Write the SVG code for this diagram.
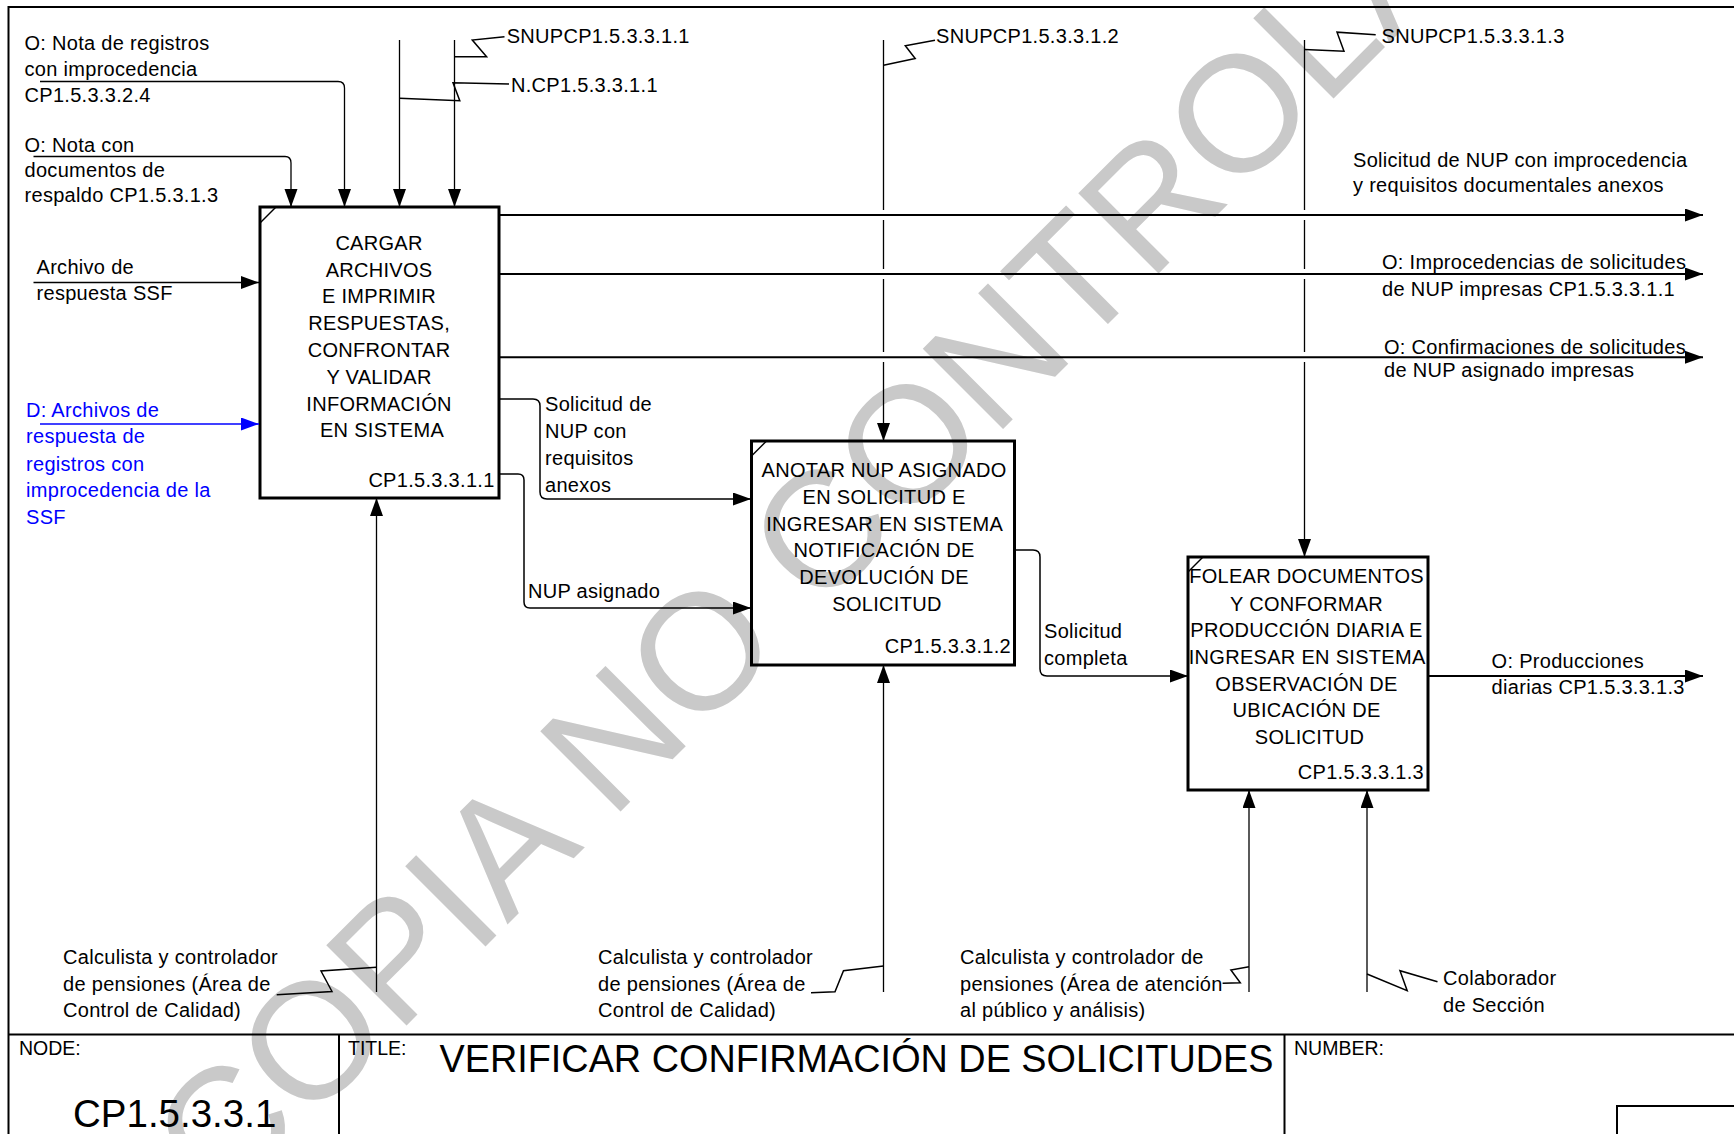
<svg xmlns="http://www.w3.org/2000/svg" width="1734" height="1134" viewBox="0 0 1734 1134">
<style>
.t{font-family:"Liberation Sans",Arial,Helvetica,sans-serif;font-size:20px;fill:#000;letter-spacing:0.3px}
.m{text-anchor:middle}
.e{text-anchor:end}
.blue{fill:#0000ff}
.b{fill:none;stroke:#000;stroke-width:3}
.o{fill:none;stroke:#000;stroke-width:2}
.c{fill:none;stroke:#000;stroke-width:1.3}
.s{fill:none;stroke:#000;stroke-width:1.5}
.fr{fill:none;stroke:#000;stroke-width:2}
.wm{font-family:"Liberation Sans",Arial,sans-serif;font-size:165px;fill:#c9c9c9}
</style>
<defs>
<marker id="ah" markerUnits="userSpaceOnUse" markerWidth="20" markerHeight="14" refX="18" refY="6.5" orient="auto"><path d="M0,0 L18,6.5 L0,13 z" fill="#000"/></marker>
<marker id="ahb" markerUnits="userSpaceOnUse" markerWidth="20" markerHeight="14" refX="18" refY="6.5" orient="auto"><path d="M0,0 L18,6.5 L0,13 z" fill="#0000ff"/></marker>
</defs>
<rect width="1734" height="1134" fill="#fff"/>
<g id="watermark">
<text class="wm" x="222" y="1210" transform="rotate(-45 222 1210)">COPIA NO CONTROLADA</text>
</g>
<g id="frame">
<rect class="fr" x="8.5" y="7" width="1800" height="1200"/>
<line class="fr" x1="8.5" y1="1034.5" x2="1740" y2="1034.5"/>
<line class="fr" x1="339" y1="1034.5" x2="339" y2="1140"/>
<line class="fr" x1="1284.5" y1="1034.5" x2="1284.5" y2="1140"/>
<rect class="fr" x="1617" y="1106" width="200" height="100"/>
<text class="t" x="19" y="1055" style="font-size:19.5px;letter-spacing:0">NODE:</text>
<text class="t" x="73" y="1127" style="font-size:38.5px;letter-spacing:0">CP1.5.3.3.1</text>
<text class="t" x="348" y="1055" style="font-size:19.5px;letter-spacing:0">TITLE:</text>
<text class="t" x="439.5" y="1071.7" style="font-size:38px;letter-spacing:0" textLength="834" lengthAdjust="spacingAndGlyphs">VERIFICAR CONFIRMACIÓN DE SOLICITUDES</text>
<text class="t" x="1294" y="1055" style="font-size:19.5px;letter-spacing:0">NUMBER:</text>
</g>
<g id="A1">
<rect class="b" x="260" y="207" width="239" height="291"/>
<line class="s" x1="260" y1="223" x2="276" y2="207"/>
<text class="t m">
<tspan x="382" y="250">CARGAR</tspan>
<tspan x="382" y="276.5">ARCHIVOS</tspan>
<tspan x="382" y="303">E IMPRIMIR</tspan>
<tspan x="382" y="330">RESPUESTAS,</tspan>
<tspan x="382" y="357">CONFRONTAR</tspan>
<tspan x="382" y="383.5">Y VALIDAR</tspan>
<tspan x="382" y="410.5">INFORMACIÓN</tspan>
<tspan x="382" y="437">EN SISTEMA</tspan>
</text>
<text class="t e" x="494.6" y="486.7">CP1.5.3.3.1.1</text>
</g>
<g id="A2">
<rect class="b" x="751.5" y="441" width="263" height="224"/>
<line class="s" x1="751.5" y1="456" x2="766.5" y2="441"/>
<text class="t m">
<tspan x="887" y="477.3">ANOTAR NUP ASIGNADO</tspan>
<tspan x="887" y="504">EN SOLICITUD E</tspan>
<tspan x="887" y="530.7">INGRESAR EN SISTEMA</tspan>
<tspan x="887" y="557.3">NOTIFICACIÓN DE</tspan>
<tspan x="887" y="584">DEVOLUCIÓN DE</tspan>
<tspan x="887" y="610.7">SOLICITUD</tspan>
</text>
<text class="t e" x="1011" y="653.3">CP1.5.3.3.1.2</text>
</g>
<g id="A3">
<rect class="b" x="1188" y="557" width="240" height="233"/>
<line class="s" x1="1188" y1="572" x2="1203" y2="557"/>
<text class="t m">
<tspan x="1309.5" y="583.3">FOLEAR DOCUMENTOS</tspan>
<tspan x="1309.5" y="610.7">Y CONFORMAR</tspan>
<tspan x="1309.5" y="637.3">PRODUCCIÓN DIARIA E</tspan>
<tspan x="1309.5" y="664">INGRESAR EN SISTEMA</tspan>
<tspan x="1309.5" y="690.7">OBSERVACIÓN DE</tspan>
<tspan x="1309.5" y="717.3">UBICACIÓN DE</tspan>
<tspan x="1309.5" y="744">SOLICITUD</tspan>
</text>
<text class="t e" x="1424" y="779.3">CP1.5.3.3.1.3</text>
</g>
<g id="connectors">
<path class="c" d="M40,81.5 H338 Q344.5,81.5 344.5,88 V207" marker-end="url(#ah)"/>
<path class="c" d="M33.5,156.5 H285 Q291,156.5 291,163 V207" marker-end="url(#ah)"/>
<path class="c" d="M399.5,40 V207" marker-end="url(#ah)"/>
<path class="c" d="M454.5,40 V207" marker-end="url(#ah)"/>
<path class="c" d="M33.5,282.5 H259" marker-end="url(#ah)"/>
<path class="c" d="M40,424 H259" style="stroke:#0000ff" marker-end="url(#ahb)"/>
<path class="o" d="M499,215 H1703" marker-end="url(#ah)"/>
<path class="o" d="M499,274 H1703" marker-end="url(#ah)"/>
<path class="o" d="M499,357.3 H1703" marker-end="url(#ah)"/>
<path class="s" d="M499,399 H533 Q540,399 540,406 V492 Q540,499 547,499 H751" marker-end="url(#ah)"/>
<path class="s" d="M499,474 H518 Q524,474 524,480 V602 Q524,608 530,608 H751" marker-end="url(#ah)"/>
<path class="s" d="M1015,550 H1033 Q1040,550 1040,557 V669 Q1040,676 1047,676 H1188" marker-end="url(#ah)"/>
<path class="o" d="M1428,676 H1703" marker-end="url(#ah)"/>
<path class="c" d="M883.5,40 V210 M883.5,220 V269 M883.5,279 V352"/>
<path class="c" d="M883.5,362 V441" marker-end="url(#ah)"/>
<path class="c" d="M1304.5,40 V210 M1304.5,220 V269 M1304.5,279 V352"/>
<path class="c" d="M1304.5,362 V557" marker-end="url(#ah)"/>
<path class="c" d="M376.5,992 V498" marker-end="url(#ah)"/>
<path class="c" d="M883.5,992 V665" marker-end="url(#ah)"/>
<path class="c" d="M1249,992 V790" marker-end="url(#ah)"/>
<path class="c" d="M1367,992 V790" marker-end="url(#ah)"/>
<path class="s" d="M454.5,56.7 L486.6,56.7 L472.3,40 L504.5,36.7"/>
<path class="s" d="M399.5,98.3 L459.8,100.7 L453,82.7 L509,84"/>
<path class="s" d="M883.5,65.2 L915.2,58.6 L905.3,45.8 L935,40.3"/>
<path class="s" d="M1304.5,49.5 L1344,51.3 L1337,32.2 L1375.7,34.8"/>
<path class="s" d="M276.7,994.8 L332,991.5 L321,971 L376.5,967.3"/>
<path class="s" d="M811,992.7 L835,991.7 L843.5,970.7 L883.5,966"/>
<path class="s" d="M1222.6,983.3 L1240.3,982.7 L1230.9,970 L1249,966.7"/>
<path class="s" d="M1367,974 L1407.2,990.7 L1400,970.7 L1437.5,981.7"/>
</g>
<g id="labels">
<text class="t"><tspan x="24.5" y="50">O: Nota de registros</tspan><tspan x="24.5" y="76">con improcedencia</tspan><tspan x="24.5" y="102">CP1.5.3.3.2.4</tspan></text>
<text class="t"><tspan x="24.5" y="151.5">O: Nota con</tspan><tspan x="24.5" y="177">documentos de</tspan><tspan x="24.5" y="202">respaldo CP1.5.3.1.3</tspan></text>
<text class="t"><tspan x="36.5" y="273.5">Archivo de</tspan><tspan x="36.5" y="300">respuesta SSF</tspan></text>
<text class="t blue"><tspan x="26" y="416.5">D: Archivos de</tspan><tspan x="26" y="443.3">respuesta de</tspan><tspan x="26" y="470.5">registros con</tspan><tspan x="26" y="497.3">improcedencia de la</tspan><tspan x="26" y="523.5">SSF</tspan></text>
<text class="t" x="506.7" y="43.3">SNUPCP1.5.3.3.1.1</text>
<text class="t" x="511" y="91.7">N.CP1.5.3.3.1.1</text>
<text class="t" x="936" y="42.5">SNUPCP1.5.3.3.1.2</text>
<text class="t" x="1381.6" y="42.5">SNUPCP1.5.3.3.1.3</text>
<text class="t"><tspan x="1353" y="166.7">Solicitud de NUP con improcedencia</tspan><tspan x="1353" y="192.3">y requisitos documentales anexos</tspan></text>
<text class="t"><tspan x="1382" y="269">O: Improcedencias de solicitudes</tspan><tspan x="1382" y="296">de NUP impresas CP1.5.3.3.1.1</tspan></text>
<text class="t"><tspan x="1384" y="353.5">O: Confirmaciones de solicitudes</tspan><tspan x="1384" y="377.3">de NUP asignado impresas</tspan></text>
<text class="t"><tspan x="545" y="411">Solicitud de</tspan><tspan x="545" y="438">NUP con</tspan><tspan x="545" y="464.5">requisitos</tspan><tspan x="545" y="491.5">anexos</tspan></text>
<text class="t" x="528" y="597.5">NUP asignado</text>
<text class="t"><tspan x="1044" y="638.3">Solicitud</tspan><tspan x="1044" y="665">completa</tspan></text>
<text class="t"><tspan x="1491.6" y="668.3">O: Producciones</tspan><tspan x="1491.6" y="694">diarias CP1.5.3.3.1.3</tspan></text>
<text class="t"><tspan x="63" y="964">Calculista y controlador</tspan><tspan x="63" y="990.5">de pensiones (Área de</tspan><tspan x="63" y="1017">Control de Calidad)</tspan></text>
<text class="t"><tspan x="598" y="964">Calculista y controlador</tspan><tspan x="598" y="990.5">de pensiones (Área de</tspan><tspan x="598" y="1017">Control de Calidad)</tspan></text>
<text class="t"><tspan x="960" y="964">Calculista y controlador de</tspan><tspan x="960" y="990.5">pensiones (Área de atención</tspan><tspan x="960" y="1017">al público y análisis)</tspan></text>
<text class="t"><tspan x="1443" y="985">Colaborador</tspan><tspan x="1443" y="1011.5">de Sección</tspan></text>
</g>
</svg>
